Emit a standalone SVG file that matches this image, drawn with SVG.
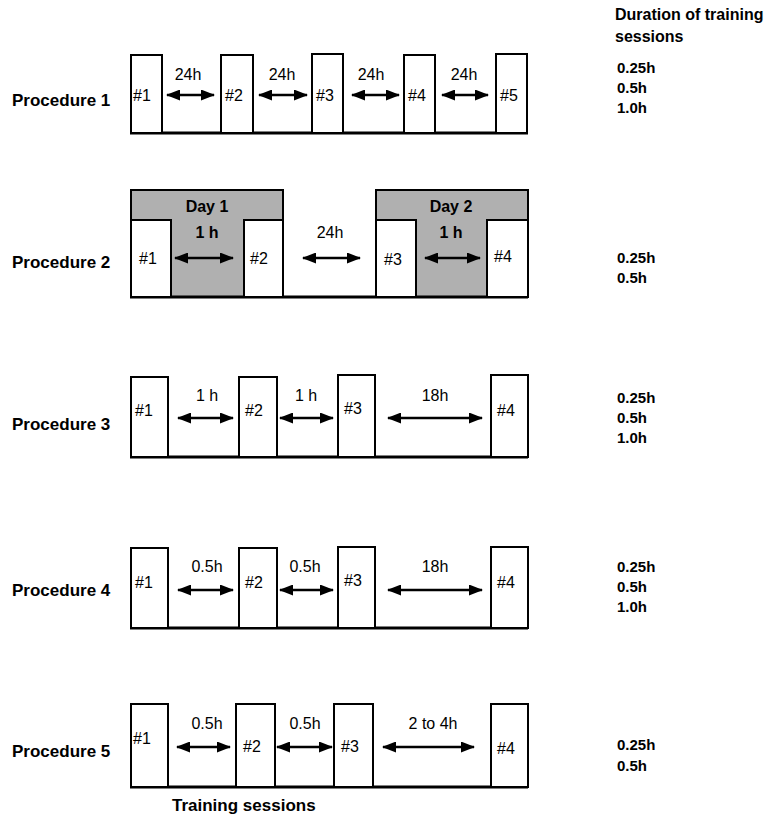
<svg xmlns="http://www.w3.org/2000/svg" width="779" height="820" viewBox="0 0 779 820">
<defs>
<style>
text{font-family:"Liberation Sans",Arial,sans-serif;font-size:16px;fill:#000}
.b{font-weight:bold}
.p{font-weight:bold;font-size:17px}
.h{font-weight:bold;font-size:16px}
.v{font-weight:bold;font-size:15px}
.box{fill:#fff;stroke:#000;stroke-width:2}
.gray{fill:#b0b0b0;stroke:#000;stroke-width:2}
.base{stroke:#000;stroke-width:3}
.arr{stroke:#000;stroke-width:2.4;marker-start:url(#ah);marker-end:url(#ah)}
.c{text-anchor:middle}
</style>
<marker id="ah" viewBox="0 0 14 11" refX="13" refY="5.5" markerWidth="14" markerHeight="11" markerUnits="userSpaceOnUse" orient="auto-start-reverse">
<path d="M0,0 L14,5.5 L0,11 z" fill="#000"/>
</marker>
</defs>
<rect width="779" height="820" fill="#fff"/>

<g id="header">
<text class="h" x="615" y="20">Duration of training</text>
<text class="h" x="615" y="42">sessions</text>
</g>

<!-- Procedure 1 -->
<g id="proc1">
<text class="p" x="12" y="106">Procedure 1</text>
<line class="base" x1="130" y1="133" x2="528" y2="133"/>
<rect class="box" x="131" y="55" width="31" height="78"/>
<rect class="box" x="221" y="55" width="32" height="78"/>
<rect class="box" x="312" y="54" width="31" height="79"/>
<rect class="box" x="404" y="55" width="31" height="78"/>
<rect class="box" x="496" y="54" width="31" height="79"/>
<text x="133" y="101">#1</text>
<text x="225" y="101">#2</text>
<text x="316" y="101">#3</text>
<text x="408" y="101">#4</text>
<text x="500" y="101">#5</text>
<text class="c" x="188" y="80">24h</text>
<text class="c" x="282" y="80">24h</text>
<text class="c" x="371" y="80">24h</text>
<text class="c" x="464" y="80">24h</text>
<text class="v" x="617" y="73">0.25h</text>
<text class="v" x="617" y="93">0.5h</text>
<text class="v" x="617" y="113">1.0h</text>
</g>

<!-- Procedure 2 -->
<g id="proc2">
<text class="p" x="12" y="268">Procedure 2</text>
<rect class="gray" x="131" y="190" width="152" height="107"/>
<rect class="gray" x="376" y="190" width="152" height="107"/>
<line class="base" x1="130" y1="297" x2="528" y2="297"/>
<rect class="box" x="131" y="220" width="40" height="77"/>
<rect class="box" x="244" y="220" width="39" height="77"/>
<rect class="box" x="376" y="220" width="40" height="77"/>
<rect class="box" x="487" y="220" width="41" height="77"/>
<text class="b c" x="207" y="212">Day 1</text>
<text class="b c" x="207" y="238">1 h</text>
<text class="b c" x="451" y="212">Day 2</text>
<text class="b c" x="451" y="238">1 h</text>
<text class="c" x="330" y="238">24h</text>
<text x="139" y="264">#1</text>
<text x="250" y="264">#2</text>
<text x="384" y="265">#3</text>
<text x="494" y="262">#4</text>
<text class="v" x="617" y="263">0.25h</text>
<text class="v" x="617" y="283">0.5h</text>
</g>

<!-- Procedure 3 -->
<g id="proc3">
<text class="p" x="12" y="430">Procedure 3</text>
<line class="base" x1="130" y1="457" x2="528" y2="457"/>
<rect class="box" x="131" y="377" width="37" height="80"/>
<rect class="box" x="239" y="377" width="38" height="80"/>
<rect class="box" x="338" y="375" width="37" height="82"/>
<rect class="box" x="491" y="375" width="37" height="82"/>
<text x="135" y="416">#1</text>
<text x="245" y="416">#2</text>
<text x="344" y="414">#3</text>
<text x="497" y="416">#4</text>
<text class="c" x="207" y="401">1 h</text>
<text class="c" x="306" y="401">1 h</text>
<text class="c" x="435" y="401">18h</text>
<text class="v" x="617" y="403">0.25h</text>
<text class="v" x="617" y="423">0.5h</text>
<text class="v" x="617" y="443">1.0h</text>
</g>

<!-- Procedure 4 -->
<g id="proc4">
<text class="p" x="12" y="596">Procedure 4</text>
<line class="base" x1="130" y1="628" x2="528" y2="628"/>
<rect class="box" x="131" y="548" width="37" height="80"/>
<rect class="box" x="239" y="548" width="38" height="80"/>
<rect class="box" x="338" y="547" width="37" height="81"/>
<rect class="box" x="491" y="547" width="37" height="81"/>
<text x="135" y="588">#1</text>
<text x="245" y="588">#2</text>
<text x="344" y="586">#3</text>
<text x="497" y="588">#4</text>
<text class="c" x="207" y="572">0.5h</text>
<text class="c" x="305" y="572">0.5h</text>
<text class="c" x="435" y="572">18h</text>
<text class="v" x="617" y="572">0.25h</text>
<text class="v" x="617" y="592">0.5h</text>
<text class="v" x="617" y="612">1.0h</text>
</g>

<!-- Procedure 5 -->
<g id="proc5">
<text class="p" x="12" y="757">Procedure 5</text>
<line class="base" x1="130" y1="787" x2="528" y2="787"/>
<rect class="box" x="131" y="704" width="37" height="83"/>
<rect class="box" x="236" y="704" width="39" height="83"/>
<rect class="box" x="334" y="704" width="39" height="83"/>
<rect class="box" x="491" y="704" width="37" height="83"/>
<text x="133" y="744">#1</text>
<text x="243" y="752">#2</text>
<text x="341" y="752">#3</text>
<text x="497" y="754">#4</text>
<text class="c" x="207" y="729">0.5h</text>
<text class="c" x="305" y="729">0.5h</text>
<text class="c" x="433" y="729">2 to 4h</text>
<text class="v" x="617" y="750">0.25h</text>
<text class="v" x="617" y="771">0.5h</text>
<text class="p" x="172" y="811">Training sessions</text>
</g>

<g id="connectors">
<line class="arr" x1="167" y1="95" x2="214" y2="95"/>
<line class="arr" x1="259" y1="95" x2="307" y2="95"/>
<line class="arr" x1="352" y1="95" x2="399" y2="95"/>
<line class="arr" x1="442" y1="95" x2="488" y2="95"/>
<line class="arr" x1="175" y1="258" x2="233" y2="258"/>
<line class="arr" x1="303" y1="258" x2="360" y2="258"/>
<line class="arr" x1="425" y1="258" x2="480" y2="258"/>
<line class="arr" x1="178" y1="418" x2="233" y2="418"/>
<line class="arr" x1="280" y1="418" x2="333" y2="418"/>
<line class="arr" x1="388" y1="418" x2="482" y2="418"/>
<line class="arr" x1="178" y1="590" x2="233" y2="590"/>
<line class="arr" x1="280" y1="590" x2="333" y2="590"/>
<line class="arr" x1="388" y1="590" x2="482" y2="590"/>
<line class="arr" x1="177" y1="747" x2="230" y2="747"/>
<line class="arr" x1="277" y1="747" x2="332" y2="747"/>
<line class="arr" x1="383" y1="747" x2="474" y2="747"/>
</g>
</svg>
